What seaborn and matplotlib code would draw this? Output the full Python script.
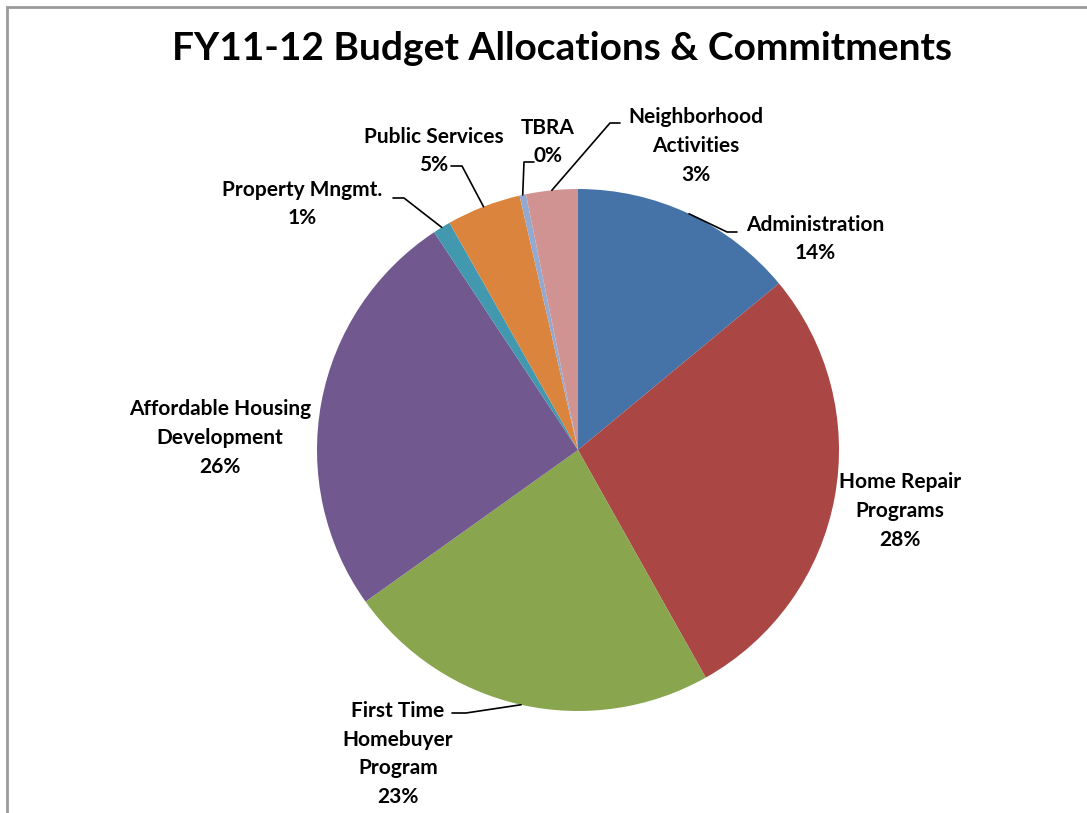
import matplotlib
matplotlib.use("Agg")
import matplotlib.pyplot as plt
import seaborn as sns
import numpy as np
from matplotlib.patches import Rectangle

categories = ["Administration", "Home Repair\nPrograms", "First Time\nHomebuyer\nProgram",
              "Affordable Housing\nDevelopment", "Property Mngmt.", "Public Services",
              "TBRA", "Neighborhood\nActivities"]
values = [14.0, 27.9, 23.3, 25.6, 1.1, 4.6, 0.4, 3.2]
colors = ["#4673A7", "#AA4643", "#89A54E", "#71588F", "#4198AF", "#DB843D", "#93A9CF", "#D19392"]

sns.set_theme(style="white")
plt.rcParams['font.family'] = ['Lato', 'DejaVu Sans']

W, H = 1087, 813
CX, CY, R = 578, 450, 261
fig = plt.figure(figsize=(W / 100, H / 100), dpi=100)
fig.patch.set_facecolor("white")

# chart frame
fig.add_artist(Rectangle((7 / W, -0.1), 1.2, (H - 7) / H + 0.1, transform=fig.transFigure,
                         fill=False, edgecolor="#9a9a9a", linewidth=2))

fig.text(562 / W, 1 - 48 / H, "FY11-12 Budget Allocations & Commitments",
         ha="center", va="center", fontsize=28, fontweight="bold", color="black")

ax = fig.add_axes([(CX - R) / W, (H - CY - R) / H, 2 * R / W, 2 * R / H])
wedges, _ = ax.pie(values, colors=colors, startangle=90, counterclock=False, radius=1,
                   wedgeprops=dict(linewidth=0))
ax.set_xlim(-1, 1)
ax.set_ylim(-1, 1)
ax.set_aspect("equal")
ax.axis("off")

total = sum(values)
pcts = [f"{round(v / total * 100):d}%" for v in values]

def d(px, py):
    return ((px - CX) / R, (CY - py) / R)

# label centres (px) and leader elbow points (px) or None
label_pos = [(815, 239), (900, 511), (398, 754), (220, 438), (302, 204), (434, 151), (548, 142), (696, 146)]
elbows = [[(737, 232), (727, 232)], None, [(452, 713), (466, 713)], None,
          [(393, 198), (404, 198)], [(451, 166), (462, 166)], [(534, 162), (524, 162)],
          [(620, 123), (610, 123)]]

for w, cat, pct, pos, elb in zip(wedges, categories, pcts, label_pos, elbows):
    txt = cat + "\n" + pct
    x, y = d(*pos)
    ax.text(x, y, txt, ha="center", va="center", fontsize=15, fontweight="bold",
            color="black", linespacing=1.55)
    if elb is not None:
        mid = np.deg2rad((w.theta1 + w.theta2) / 2)
        ex, ey = np.cos(mid), np.sin(mid)
        pts = [d(*p) for p in elb] + [(ex, ey)]
        ax.plot([p[0] for p in pts], [p[1] for p in pts], color="black", linewidth=1.2,
                clip_on=False)

fig.savefig("out.png", dpi=100, facecolor="white")
